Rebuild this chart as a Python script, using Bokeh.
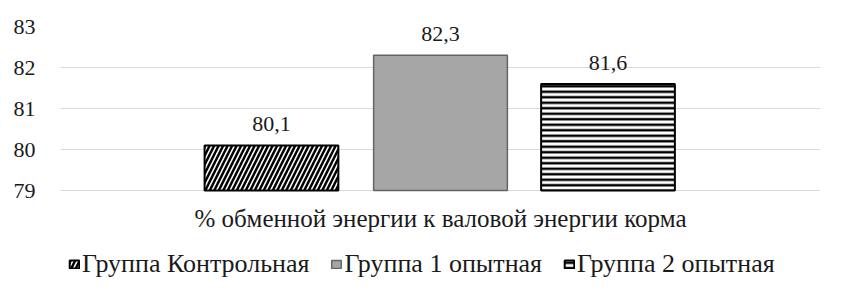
from bokeh.plotting import figure
from bokeh.models import FactorRange, ColumnDataSource, LabelSet, Legend, LegendItem, FixedTicker
from bokeh.core.properties import value
from bokeh.transform import dodge
from bokeh.embed import file_html
from bokeh.resources import INLINE

category = ["% обменной энергии к валовой энергии корма"]
series_names = ["Группа Контрольная", "Группа 1 опытная", "Группа 2 опытная"]
values = [80.1, 82.3, 81.6]
value_labels = ["80,1", "82,3", "81,6"]
y_ticks = [79, 80, 81, 82, 83]
offsets = [-0.2224, 0.0, 0.2204]

FONT = "Liberation Serif"
TXT = "#1a1a1a"

# value axis 79..83; frame extended below so the category label and legend sit inside it
px_per_unit = 41
y_start = y_ticks[0] - 95 / px_per_unit

p = figure(width=826, height=285, x_range=FactorRange(factors=category, range_padding=0),
           y_range=(y_start, y_ticks[-1]), output_backend="svg", toolbar_location=None,
           min_border_left=60, min_border_right=6, min_border_top=26, min_border_bottom=0)
p.outline_line_color = None
p.background_fill_color = "white"
p.xaxis.visible = False

styles = [
    dict(fill_color="white", line_color="black", line_width=2, hatch_pattern="/", hatch_color="black", hatch_scale=9, hatch_weight=2.5),
    dict(fill_color="#a6a6a6", line_color="#646464", line_width=1.5),
    dict(fill_color="white", line_color="black", line_width=2, hatch_pattern="-", hatch_color="black", hatch_scale=5.5, hatch_weight=2.5),
]

items = []
for i in range(3):
    src = ColumnDataSource(dict(x=category, top=[values[i]], lab=[value_labels[i]]))
    r = p.vbar(x=dodge("x", offsets[i], range=p.x_range), top="top", bottom=y_ticks[0], width=0.176, source=src, **styles[i])
    items.append(LegendItem(label=series_names[i], renderers=[r]))
    p.add_layout(LabelSet(x=dodge("x", offsets[i], range=p.x_range), y="top", text="lab", source=src,
                          text_align="center", text_baseline="bottom", y_offset=14,
                          text_font=value(FONT), text_font_size=value("22px"), text_color=value(TXT)))

# category label under the value axis baseline
cat_src = ColumnDataSource(dict(x=category, y=[y_ticks[0]]))
p.add_layout(LabelSet(x="x", y="y", text="x", source=cat_src, text_align="center", text_baseline="middle",
                      y_offset=-28, text_font=value(FONT), text_font_size=value("25px"), text_color=value(TXT)))

p.yaxis.ticker = FixedTicker(ticks=y_ticks)
p.yaxis.axis_line_color = None
p.yaxis.major_tick_line_color = None
p.yaxis.minor_tick_line_color = None
p.yaxis.major_label_standoff = 19
p.yaxis.major_label_text_font = FONT
p.yaxis.major_label_text_font_size = "22px"
p.yaxis.major_label_text_color = TXT

p.xgrid.grid_line_color = None
p.ygrid.grid_line_color = "#d9d9d9"

legend = Legend(items=items, orientation="horizontal", location=(8, 6),
                label_text_font=FONT, label_text_font_size="26px", label_text_color=TXT,
                glyph_width=12, glyph_height=10, label_standoff=2, spacing=21,
                padding=0, margin=0, border_line_color=None, background_fill_alpha=0,
                label_height=20)
p.add_layout(legend, "center")

open("out.html", "w").write(file_html(p, INLINE))
